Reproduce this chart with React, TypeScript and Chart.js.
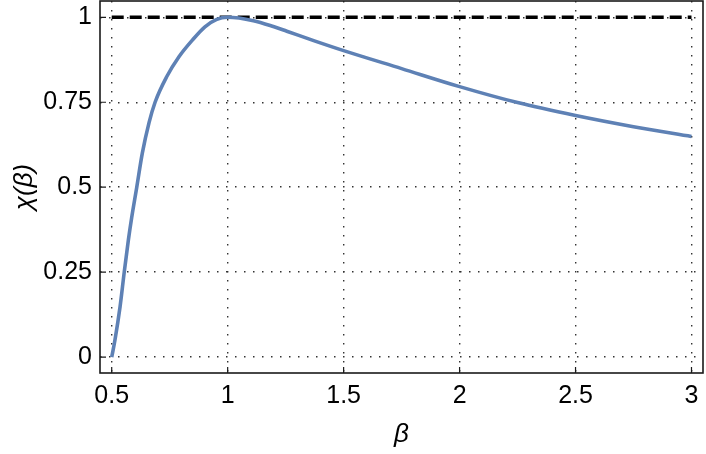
import { useEffect, useRef } from 'react';
import { Chart, registerables } from 'chart.js';

Chart.register(...registerables);

// values
const betaValues = [0.5, 0.503, 0.514, 0.536, 0.554, 0.572, 0.586, 0.608, 0.632, 0.661, 0.687, 0.737, 0.79, 0.848, 0.902, 0.953, 1.0, 1.111, 1.2, 1.255, 1.377, 1.5, 1.75, 2.0, 2.25, 2.5, 2.75, 3.0];
const chiValues = [0, 0.01, 0.05, 0.148, 0.25, 0.345, 0.41, 0.5, 0.6, 0.69, 0.75, 0.825, 0.884, 0.933, 0.972, 0.994, 1.0, 0.99, 0.972, 0.959, 0.93, 0.902, 0.849, 0.796, 0.749, 0.711, 0.678, 0.649];

const limitBeta = [0.5, 3.0];
const limitChi = [1, 1];

const xTickValues = [0.5, 1, 1.5, 2, 2.5, 3];
const xTickLabels = ['0.5', '1', '1.5', '2', '2.5', '3'];
const yTickValues = [0, 0.25, 0.5, 0.75, 1];
const yTickLabels = ['0', '0.25', '0.5', '0.75', '1'];

const FONT = '"Liberation Sans", Arial, sans-serif';

// frame around the plot plus short inward tick marks (left and bottom)
const framePlugin = {
  id: 'frame',
  afterDatasetsDraw(chart: any) {
    const { ctx, chartArea, scales } = chart;
    const { left, right, top, bottom } = chartArea;
    ctx.save();
    ctx.strokeStyle = '#1a1a1a';
    ctx.lineWidth = 1.6;
    ctx.strokeRect(left, top, right - left, bottom - top);
    ctx.lineWidth = 1.2;
    ctx.beginPath();
    xTickValues.forEach((v) => {
      const px = scales.x.getPixelForValue(v);
      ctx.moveTo(px, bottom);
      ctx.lineTo(px, bottom - 6);
    });
    yTickValues.forEach((v) => {
      const py = scales.y.getPixelForValue(v);
      ctx.moveTo(left, py);
      ctx.lineTo(left + 6, py);
    });
    ctx.stroke();
    ctx.restore();
  },
};

const noPadding = (axis: any) => {
  axis.paddingTop = 0;
  axis.paddingBottom = 0;
  axis.paddingLeft = 0;
  axis.paddingRight = 0;
};

export default function App() {
  const chartRef = useRef<HTMLCanvasElement>(null);
  const chartInstance = useRef<Chart | null>(null);

  useEffect(() => {
    if (!chartRef.current) return;
    if (chartInstance.current) chartInstance.current.destroy();

    chartInstance.current = new Chart(chartRef.current, {
      type: 'line',
      data: {
        datasets: [
          {
            label: 'limit',
            data: limitBeta.map((b, i) => ({ x: b, y: limitChi[i] })),
            borderColor: '#000000',
            borderWidth: 3.4,
            borderDash: [12, 6],
            pointRadius: 0,
            order: 2,
          },
          {
            label: 'chi',
            data: betaValues.map((b, i) => ({ x: b, y: chiValues[i] })),
            borderColor: '#5E81B5',
            borderWidth: 3.6,
            pointRadius: 0,
            cubicInterpolationMode: 'monotone',
            order: 1,
          },
        ],
      },
      options: {
        animation: false,
        responsive: true,
        maintainAspectRatio: false,
        layout: { padding: { top: 1, right: 3, left: 0, bottom: 0 } },
        plugins: {
          legend: { display: false },
          tooltip: { enabled: false },
        },
        scales: {
          x: {
            type: 'linear',
            min: 0.4495,
            max: 3.0496,
            afterBuildTicks: (axis: any) => {
              axis.ticks = xTickValues.map((v) => ({ value: v }));
            },
            afterFit: (axis: any) => {
              axis.height = 81;
              noPadding(axis);
            },
            ticks: {
              color: '#000',
              padding: 8,
              maxRotation: 0,
              font: { family: FONT, size: 25 },
              callback: (v: any) => xTickLabels[xTickValues.indexOf(Number(v))] ?? '',
            },
            grid: { color: '#333', lineWidth: 1.4, drawTicks: false },
            border: { display: false, dash: [1.5, 7.5] },
            title: {
              display: true,
              text: 'β',
              color: '#000',
              padding: 4,
              font: { family: FONT, size: 26, style: 'italic' },
            },
          },
          y: {
            type: 'linear',
            min: -0.047,
            max: 1.048,
            afterBuildTicks: (axis: any) => {
              axis.ticks = yTickValues.map((v) => ({ value: v }));
            },
            afterFit: (axis: any) => {
              axis.width = 100;
              noPadding(axis);
            },
            ticks: {
              color: '#000',
              padding: 8,
              font: { family: FONT, size: 25 },
              callback: (v: any) => yTickLabels[yTickValues.indexOf(Number(v))] ?? '',
            },
            grid: { color: '#333', lineWidth: 1.4, drawTicks: false },
            border: { display: false, dash: [1.5, 7.5] },
            title: {
              display: true,
              text: 'χ(β)',
              color: '#000',
              padding: 9,
              font: { family: FONT, size: 26, style: 'italic' },
            },
          },
        },
      },
      plugins: [framePlugin],
    });

    return () => {
      if (chartInstance.current) {
        chartInstance.current.destroy();
        chartInstance.current = null;
      }
    };
  }, []);

  return (
    <div style={{ position: 'fixed', left: 0, top: 0, width: 706, height: 454, background: '#fff' }}>
      <canvas ref={chartRef} />
    </div>
  );
}
